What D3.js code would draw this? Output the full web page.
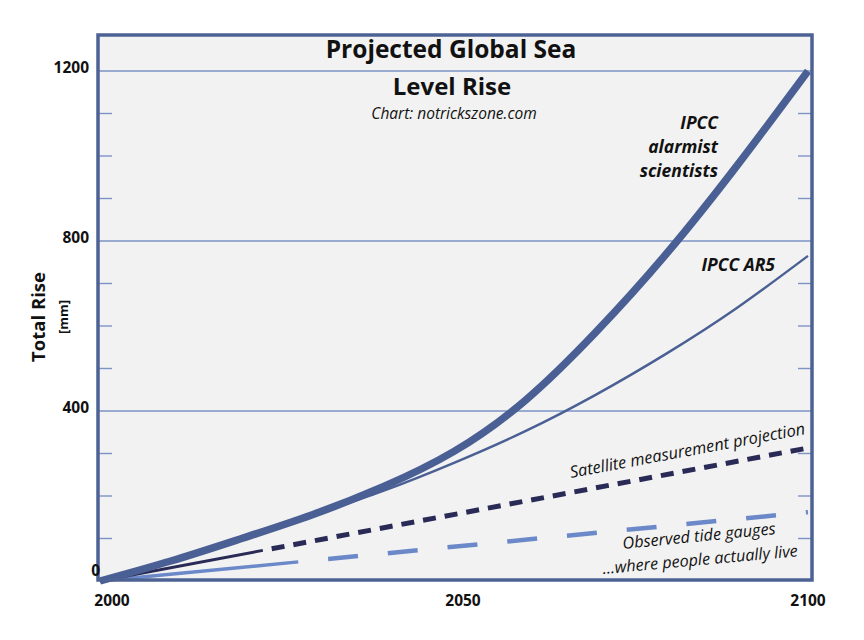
<!DOCTYPE html>
<html>
<head>
<meta charset="utf-8">
<script src="https://cdn.jsdelivr.net/npm/d3@7"></script>
<style>
  html, body { margin: 0; padding: 0; background: #ffffff; }
  svg { display: block; }
  text { font-family: "Open Sans", Lato, sans-serif; fill: #111; }
</style>
</head>
<body>
<svg id="chart" width="864" height="640"></svg>
<script>
// ---- data ----
const years = [2000, 2010, 2020, 2030, 2040, 2050, 2060, 2070, 2080, 2090, 2100];
const alarmist = [0, 47, 100, 156, 222, 305, 424, 585, 770, 978, 1200];
const ar5 = [0, 47, 100, 155, 212, 278, 352, 438, 535, 643, 765];
const satObsYears = [2000, 2023];
const satObs = [0, 72];
const satProjYears = [2023, 2100];
const satProj = [72, 313];
const tideObsYears = [2000, 2028];
const tideObs = [0, 45];
const tideProjYears = [2028, 2100];
const tideProj = [45, 162];
const xTicks = [2000, 2050, 2100];
const yMajor = [0, 400, 800, 1200];
const yMinor = [100, 200, 300, 500, 600, 700, 900, 1000, 1100];

// ---- layout ----
const svg = d3.select("#chart");
const frame = { left: 98, top: 35, right: 812, bottom: 580 };
const x = d3.scaleLinear().domain([2000, 2100]).range([100, 808]);
const y = d3.scaleLinear().domain([0, 1200]).range([581, 71]);

const axisCol = "#4d6294";
const gridCol = "#7d93c6";
const mainCol = "#4a5f94";
const satCol = "#2a2a56";
const tideCol = "#6b89c9";

// plot background
svg.append("rect")
  .attr("x", frame.left).attr("y", frame.top)
  .attr("width", frame.right - frame.left).attr("height", frame.bottom - frame.top)
  .attr("fill", "#f2f2f2");

// gridlines
svg.append("g").selectAll("line").data(yMajor.filter(d => d > 0)).join("line")
  .attr("x1", frame.left).attr("x2", frame.right)
  .attr("y1", d => y(d)).attr("y2", d => y(d))
  .attr("stroke", gridCol).attr("stroke-width", 1.4);

// minor ticks left and right (inward)
const minorG = svg.append("g");
minorG.selectAll("line.l").data(yMinor).join("line").attr("class", "l")
  .attr("x1", frame.left).attr("x2", frame.left + 14)
  .attr("y1", d => y(d)).attr("y2", d => y(d))
  .attr("stroke", gridCol).attr("stroke-width", 1.4);
minorG.selectAll("line.r").data(yMinor).join("line").attr("class", "r")
  .attr("x1", frame.right - 14).attr("x2", frame.right)
  .attr("y1", d => y(d)).attr("y2", d => y(d))
  .attr("stroke", gridCol).attr("stroke-width", 1.4);

// lines
const line = d3.line().x(d => x(d[0])).y(d => y(d[1])).curve(d3.curveNatural);
const zip = (a, b) => a.map((v, i) => [v, b[i]]);

// tide gauges
svg.append("path").datum(zip(tideObsYears, tideObs)).attr("d", line)
  .attr("fill", "none").attr("stroke", tideCol).attr("stroke-width", 3.5);
svg.append("path").datum(zip(tideProjYears, tideProj)).attr("d", line)
  .attr("fill", "none").attr("stroke", tideCol).attr("stroke-width", 4.5)
  .attr("stroke-dasharray", "30 30").attr("stroke-dashoffset", 30);

// satellite
svg.append("path").datum(zip(satObsYears, satObs)).attr("d", line)
  .attr("fill", "none").attr("stroke", satCol).attr("stroke-width", 3);
svg.append("path").datum(zip(satProjYears, satProj)).attr("d", line)
  .attr("fill", "none").attr("stroke", satCol).attr("stroke-width", 5)
  .attr("stroke-dasharray", "13 9").attr("stroke-dashoffset", 13);

// IPCC AR5
svg.append("path").datum(zip(years, ar5)).attr("d", line)
  .attr("fill", "none").attr("stroke", mainCol).attr("stroke-width", 2.4);

// IPCC alarmist
svg.append("path").datum(zip(years, alarmist)).attr("d", line)
  .attr("fill", "none").attr("stroke", mainCol).attr("stroke-width", 7.5);

// frame
svg.append("rect")
  .attr("x", frame.left).attr("y", frame.top)
  .attr("width", frame.right - frame.left).attr("height", frame.bottom - frame.top)
  .attr("fill", "none").attr("stroke", axisCol).attr("stroke-width", 3.5);

// y tick labels
svg.append("g").selectAll("text").data(yMajor).join("text")
  .attr("x", d => d === 0 ? 100 : 89)
  .attr("y", d => d === 0 ? y(d) - 5 : y(d) + 2)
  .attr("text-anchor", "end")
  .attr("font-size", 15.5).attr("font-weight", 700)
  .text(d => d);

// x tick labels
svg.append("g").selectAll("text").data(xTicks).join("text")
  .attr("x", (d, i) => x(d) + [12, 9, 0][i])
  .attr("y", 606)
  .attr("text-anchor", "middle")
  .attr("font-size", 15.5).attr("font-weight", 700)
  .text(d => d);

// axis title
svg.append("text")
  .attr("transform", "translate(45,317) rotate(-90)")
  .attr("text-anchor", "middle").attr("font-size", 18.5).attr("font-weight", 700)
  .text("Total Rise");
svg.append("text")
  .attr("transform", "translate(68,317) rotate(-90)")
  .attr("text-anchor", "middle").attr("font-size", 13).attr("font-weight", 700)
  .text("[mm]");

// title
svg.append("text").attr("x", 451).attr("y", 58).attr("text-anchor", "middle")
  .attr("font-size", 24.5).attr("font-weight", 700).text("Projected Global Sea");
svg.append("text").attr("x", 452).attr("y", 95).attr("text-anchor", "middle")
  .attr("font-size", 24).attr("font-weight", 700).text("Level Rise");
svg.append("text").attr("x", 454).attr("y", 119).attr("text-anchor", "middle")
  .attr("font-size", 15.5).attr("font-style", "italic").text("Chart:  notrickszone.com");

// series labels
const lab1 = svg.append("text").attr("text-anchor", "end")
  .attr("font-size", 17.5).attr("font-weight", 700).attr("font-style", "italic");
["IPCC", "alarmist", "scientists"].forEach((t, i) => {
  lab1.append("tspan").attr("x", 718).attr("y", 129 + i * 24).text(t);
});
svg.append("text").attr("x", 775).attr("y", 271).attr("text-anchor", "end")
  .attr("font-size", 17.5).attr("font-weight", 700).attr("font-style", "italic")
  .text("IPCC AR5");

svg.append("text")
  .attr("transform", "translate(571,478) rotate(-10.6)")
  .attr("font-size", 16.4).attr("font-style", "italic")
  .text("Satellite measurement projection");
svg.append("text")
  .attr("transform", "translate(623,549) rotate(-5.6)")
  .attr("font-size", 16.3).attr("font-style", "italic")
  .text("Observed tide gauges");
svg.append("text")
  .attr("transform", "translate(603,574) rotate(-5.2)")
  .attr("font-size", 16.2).attr("font-style", "italic")
  .text("…where people actually live");
</script>
</body>
</html>
